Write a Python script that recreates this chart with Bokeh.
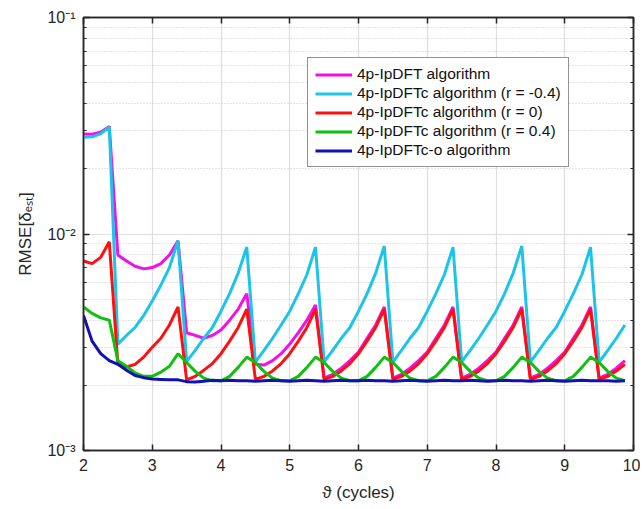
from bokeh.plotting import figure
from bokeh.models import (FixedTicker, LinearAxis, LogAxis, CustomJSTickFormatter,
                          Legend, LegendItem, Range1d, ColumnDataSource)
from bokeh.embed import file_html
from bokeh.resources import INLINE

# x positions (cycles)
theta = [2.0, 2.125, 2.25, 2.375,
         2.5, 2.625, 2.75, 2.875, 3.0, 3.125, 3.25, 3.375,
         3.5, 3.625, 3.75, 3.875, 4.0, 4.125, 4.25, 4.375,
         4.5, 4.625, 4.75, 4.875, 5.0, 5.125, 5.25, 5.375,
         5.5, 5.625, 5.75, 5.875, 6.0, 6.125, 6.25, 6.375,
         6.5, 6.625, 6.75, 6.875, 7.0, 7.125, 7.25, 7.375,
         7.5, 7.625, 7.75, 7.875, 8.0, 8.125, 8.25, 8.375,
         8.5, 8.625, 8.75, 8.875, 9.0, 9.125, 9.25, 9.375,
         9.5, 9.625, 9.75, 9.875]

ipdft = [0.0290, 0.0289, 0.0295, 0.0314,
         0.0080, 0.0075, 0.0071, 0.0069, 0.0070, 0.0073, 0.0080, 0.0093,
         0.0035, 0.0034, 0.0033, 0.0034, 0.0036, 0.0040, 0.0045, 0.0053,
         0.0025, 0.00248, 0.0026, 0.0028, 0.0031, 0.0035, 0.0040, 0.0047,
         0.00216, 0.00225, 0.0024, 0.0026, 0.00285, 0.0033, 0.0038, 0.0046,
         0.00216, 0.00225, 0.0024, 0.0026, 0.00285, 0.0033, 0.0038, 0.0046,
         0.00216, 0.00225, 0.0024, 0.0026, 0.00285, 0.0033, 0.0038, 0.0046,
         0.00216, 0.00225, 0.0024, 0.0026, 0.00285, 0.0033, 0.0038, 0.0046,
         0.00216, 0.00225, 0.0024, 0.0026]

ipdftc_m04 = [0.0280, 0.0281, 0.0290, 0.0312,
              0.0031, 0.0034, 0.0037, 0.0042, 0.0049, 0.0058, 0.0070, 0.0093,
              0.00258, 0.0029, 0.0033, 0.0037, 0.0044, 0.0053, 0.0066, 0.0087,
              0.00256, 0.0029, 0.0033, 0.0038, 0.0044, 0.0053, 0.0065, 0.0087,
              0.00257, 0.0029, 0.0033, 0.0037, 0.0044, 0.0053, 0.0066, 0.0088,
              0.00256, 0.0029, 0.0033, 0.0037, 0.0044, 0.0053, 0.0065, 0.0087,
              0.00257, 0.0029, 0.0033, 0.0038, 0.0044, 0.0053, 0.0066, 0.0088,
              0.00256, 0.0029, 0.0033, 0.0037, 0.0044, 0.0053, 0.0065, 0.0087,
              0.00256, 0.0029, 0.0033, 0.0038]

ipdftc_0 = [0.0075, 0.0073, 0.0078, 0.0092,
            0.0025, 0.00243, 0.0025, 0.0027, 0.0030, 0.0033, 0.0038, 0.0046,
            0.00212, 0.0022, 0.00235, 0.00252, 0.0028, 0.0032, 0.0037, 0.0045,
            0.00213, 0.0022, 0.00233, 0.00252, 0.0028, 0.0032, 0.0037, 0.0045,
            0.00213, 0.0022, 0.00233, 0.00252, 0.0028, 0.0032, 0.0037, 0.0045,
            0.00213, 0.0022, 0.00233, 0.00252, 0.0028, 0.0032, 0.0037, 0.0045,
            0.00213, 0.0022, 0.00233, 0.00252, 0.0028, 0.0032, 0.0037, 0.0045,
            0.00213, 0.0022, 0.00233, 0.00252, 0.0028, 0.0032, 0.0037, 0.0045,
            0.00213, 0.0022, 0.00233, 0.0025]

ipdftc_p04 = [0.0046, 0.0043, 0.0041, 0.0040,
              0.0026, 0.00245, 0.00228, 0.0022, 0.0022, 0.0023, 0.00245, 0.0028,
              0.00255, 0.00232, 0.00216, 0.0021, 0.0021, 0.0022, 0.00242, 0.0027,
              0.00255, 0.00232, 0.00216, 0.0021, 0.0021, 0.0022, 0.00242, 0.0027,
              0.00255, 0.00232, 0.00216, 0.0021, 0.0021, 0.0022, 0.00242, 0.0027,
              0.00255, 0.00232, 0.00216, 0.0021, 0.0021, 0.0022, 0.00242, 0.0027,
              0.00255, 0.00232, 0.00216, 0.0021, 0.0021, 0.0022, 0.00242, 0.0027,
              0.00255, 0.00232, 0.00216, 0.0021, 0.0021, 0.0022, 0.00242, 0.0027,
              0.00255, 0.00232, 0.00216, 0.0021]

ipdftc_o = [0.0042, 0.0032, 0.0028, 0.0026,
            0.0025, 0.00235, 0.00222, 0.00217, 0.00214, 0.00213, 0.00212, 0.00212,
            0.00208, 0.00207, 0.00209, 0.00211, 0.0021, 0.00211, 0.0021, 0.0021,
            0.00209, 0.0021, 0.00211, 0.0021, 0.00209, 0.0021, 0.00211, 0.0021,
            0.00209, 0.0021, 0.00211, 0.0021, 0.0021, 0.00211, 0.0021, 0.0021,
            0.00209, 0.0021, 0.00211, 0.0021, 0.00209, 0.0021, 0.00211, 0.0021,
            0.0021, 0.00211, 0.0021, 0.00209, 0.0021, 0.00211, 0.0021, 0.0021,
            0.00209, 0.0021, 0.00211, 0.0021, 0.00209, 0.0021, 0.00211, 0.0021,
            0.0021, 0.0021, 0.00209, 0.0021]

x_ticks = [2, 3, 4, 5, 6, 7, 8, 9, 10]
y_ticks = [1e-3, 1e-2, 1e-1]
y_minor = [2e-3, 3e-3, 4e-3, 5e-3, 6e-3, 7e-3, 8e-3, 9e-3,
           2e-2, 3e-2, 4e-2, 5e-2, 6e-2, 7e-2, 8e-2, 9e-2]

series_names = ["4p-IpDFT algorithm",
                "4p-IpDFTc algorithm (r = -0.4)",
                "4p-IpDFTc algorithm (r = 0)",
                "4p-IpDFTc algorithm (r = 0.4)",
                "4p-IpDFTc-o algorithm"]
series_values = [ipdft, ipdftc_m04, ipdftc_0, ipdftc_p04, ipdftc_o]
series_colors = ["#f010e8", "#1cc4e8", "#ff1010", "#10c010", "#1010b8"]

FONT = "Liberation Sans"
TXT = "#262626"

p = figure(width=640, height=505, x_range=Range1d(2, 10), y_range=Range1d(1e-3, 1e-1),
           y_axis_type="log", output_backend="svg", toolbar_location=None,
           min_border_left=83, min_border_right=7, min_border_top=17, min_border_bottom=55)
p.background_fill_color = "white"
p.border_fill_color = "white"
p.outline_line_color = TXT
p.outline_line_width = 1.5

sup = CustomJSTickFormatter(code="""
const m = {'-':'\u207b','0':'\u2070','1':'\u00b9','2':'\u00b2','3':'\u00b3','4':'\u2074','5':'\u2075','6':'\u2076','7':'\u2077','8':'\u2078','9':'\u2079'};
const e = Math.round(Math.log10(tick));
return '10' + String(e).split('').map(c => m[c]).join('');
""")

xt = FixedTicker(ticks=x_ticks)
yt = FixedTicker(ticks=y_ticks, minor_ticks=y_minor)

for ax in p.xaxis:
    ax.ticker = xt
    ax.axis_label = "\u03d1 (cycles)"
for ax in p.yaxis:
    ax.ticker = yt
    ax.formatter = sup
    ax.axis_label = "RMSE[\u03b4\u2091\u209b\u209c]"

for ax in list(p.xaxis) + list(p.yaxis):
    ax.axis_line_color = TXT
    ax.axis_line_width = 1.5
    ax.major_tick_line_color = TXT
    ax.major_tick_line_width = 1.5
    ax.major_tick_in = 6
    ax.major_tick_out = 0
    ax.minor_tick_line_color = TXT
    ax.minor_tick_in = 3
    ax.minor_tick_out = 0
    ax.major_label_text_font = FONT
    ax.major_label_text_font_size = "16px"
    ax.major_label_text_color = TXT
    ax.major_label_standoff = 8
    ax.axis_label_text_font = FONT
    ax.axis_label_text_font_size = "17px"
    ax.axis_label_text_font_style = "normal"
    ax.axis_label_text_color = TXT
    ax.axis_label_standoff = 9
for ax in p.xaxis:
    ax.minor_tick_line_color = None

top = LinearAxis(ticker=xt, major_label_text_font_size="1px", major_label_text_color=None,
                 major_label_standoff=0,
                 axis_line_color=TXT, axis_line_width=1.5, major_tick_line_color=TXT,
                 major_tick_line_width=1.5, major_tick_in=6, major_tick_out=0,
                 minor_tick_line_color=None)
right = LogAxis(ticker=yt, major_label_text_font_size="1px", major_label_text_color=None,
                major_label_standoff=0,
                axis_line_color=TXT, axis_line_width=1.5, major_tick_line_color=TXT,
                major_tick_line_width=1.5, major_tick_in=6, major_tick_out=0,
                minor_tick_line_color=TXT, minor_tick_in=3, minor_tick_out=0)
p.add_layout(top, "above")
p.add_layout(right, "right")

p.xgrid.grid_line_color = "#dedede"
p.xgrid.grid_line_width = 1.2
p.ygrid.grid_line_color = "#dedede"
p.ygrid.grid_line_width = 1.2
p.ygrid.minor_grid_line_color = "#c8c8c8"
p.ygrid.minor_grid_line_dash = "1 2"
p.ygrid.minor_grid_line_width = 1

items = []
for name, vals, col in zip(series_names, series_values, series_colors):
    src = ColumnDataSource(data=dict(x=theta, y=vals))
    r = p.line("x", "y", source=src, line_color=col, line_width=3)
    items.append(LegendItem(label=name, renderers=[r]))

legend = Legend(items=items, location=(224, 283), orientation="vertical",
                label_text_font=FONT, label_text_font_size="15.5px", label_text_color="#111111",
                glyph_width=37, glyph_height=15, label_height=15, label_standoff=5,
                spacing=1, padding=7, margin=0,
                border_line_color=TXT, border_line_width=1.5,
                background_fill_color="white", background_fill_alpha=1.0)
p.add_layout(legend, "center")

open("out.html", "w").write(file_html(p, INLINE))
